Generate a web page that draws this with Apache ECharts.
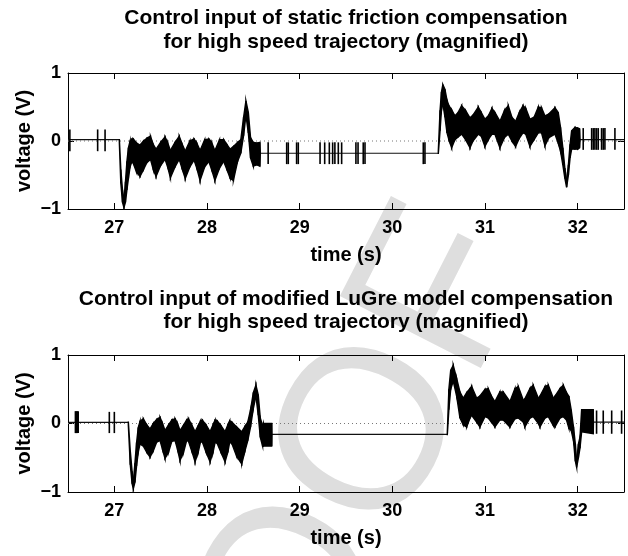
<!DOCTYPE html>
<html><head><meta charset="utf-8">
<script src="https://cdn.jsdelivr.net/npm/echarts@6/dist/echarts.min.js"></script>
<style>html,body{margin:0;padding:0;background:#fff}#c{width:628px;height:556px}</style>
</head><body><div id="c"></div>
<script>
const FONT = '"Liberation Sans", Arial, Helvetica, sans-serif';
const xTicks = [27, 28, 29, 30, 31, 32];
const yTicks = [-1, 0, 1];
const xRange = [26.5, 32.5];
const yRange = [-1, 1];
const titles1 = ['Control input of static friction compensation', 'for high speed trajectory (magnified)'];
const titles2 = ['Control input of modified LuGre model compensation', 'for high speed trajectory (magnified)'];
const xName = 'time (s)';
const yName = 'voltage (V)';
const watermark = 'PROOF';
const zeroLine = [[26.5, 0], [32.5, 0]];

// ---- plot 1: static friction compensation ----
// constant segments: [tStart, tEnd, level]
const p1Base = [[26.5, 27.054, 0.02], [28.575, 30.496, -0.18], [32.025, 32.5, 0.02]];
// band envelope: [t, lower, upper]
const p1BandA = [
 [27.054,-0.02,0.03],[27.070,-0.62,-0.42],[27.088,-0.90,-0.72],[27.104,-0.98,-0.86],[27.120,-0.90,-0.60],
 [27.136,-0.72,-0.30],[27.152,-0.55,-0.10],[27.170,-0.38,0.00],[27.190,-0.30,0.03],[27.205,-0.33,0.03],
 [27.240,-0.46,-0.03],[27.277,-0.52,-0.06],[27.315,-0.42,0.00],[27.350,-0.32,0.04],[27.390,-0.27,0.07],
 [27.420,-0.42,-0.05],[27.450,-0.52,-0.12],[27.500,-0.36,-0.02],[27.547,-0.27,0.06],[27.575,-0.38,-0.02],
 [27.605,-0.54,-0.14],[27.655,-0.38,-0.02],[27.700,-0.27,0.07],[27.730,-0.40,-0.04],[27.765,-0.55,-0.15],
 [27.815,-0.38,0.00],[27.860,-0.28,0.03],[27.890,-0.40,-0.03],[27.925,-0.58,-0.14],[27.975,-0.38,0.02],
 [28.020,-0.30,0.03],[28.050,-0.42,-0.02],[28.085,-0.58,-0.14],[28.135,-0.40,0.02],[28.180,-0.30,0.02],
 [28.215,-0.42,-0.05],[28.250,-0.55,-0.12],[28.285,-0.58,-0.08],[28.330,-0.30,-0.02],[28.365,-0.18,0.02],
 [28.395,0.08,0.35],[28.420,0.38,0.59],[28.446,0.12,0.42],[28.470,-0.25,0.05],[28.500,-0.37,-0.02],
 [28.540,-0.35,-0.03],[28.570,-0.37,-0.02],[28.575,-0.19,-0.17]
];
const p1BandB = [
 [30.496,-0.19,-0.15],[30.515,0.15,0.45],[30.530,0.45,0.72],[30.545,0.55,0.83],[30.568,0.35,0.76],
 [30.590,0.12,0.60],[30.610,0.02,0.52],[30.640,-0.10,0.46],[30.676,0.02,0.37],[30.710,0.06,0.42],
 [30.748,0.10,0.52],[30.790,0.02,0.45],[30.838,-0.10,0.34],[30.870,0.00,0.38],[30.927,0.10,0.50],
 [30.960,0.07,0.42],[30.999,-0.08,0.32],[31.040,0.03,0.38],[31.075,0.10,0.48],[31.107,0.10,0.42],
 [31.161,-0.10,0.29],[31.210,0.05,0.45],[31.251,0.10,0.52],[31.290,0.00,0.35],[31.330,-0.08,0.29],
 [31.370,0.04,0.42],[31.410,0.12,0.52],[31.440,0.10,0.48],[31.485,-0.08,0.32],[31.530,0.02,0.35],
 [31.575,0.12,0.50],[31.610,0.12,0.49],[31.647,-0.07,0.37],[31.690,0.05,0.40],[31.755,0.10,0.49],
 [31.790,-0.03,0.42],[31.815,-0.15,0.20],[31.840,-0.35,-0.10],[31.862,-0.55,-0.40],[31.881,-0.68,-0.58],
 [31.900,-0.50,-0.35],[31.918,-0.25,-0.05],[31.935,-0.12,0.15],[31.970,-0.12,0.20],[32.000,-0.12,0.19],
 [32.020,-0.10,0.18],[32.025,0.01,0.03]
];
// short noise bursts: [t, lower, upper]
const p1Spikes = [
 [26.52,-0.15,0.17],[26.82,-0.15,0.17],[26.90,-0.15,0.17],
 [28.66,-0.34,-0.02],[28.86,-0.34,-0.02],[28.877,-0.34,-0.02],[28.967,-0.34,-0.02],[28.985,-0.34,-0.02],
 [29.22,-0.34,-0.02],[29.27,-0.34,-0.02],[29.32,-0.34,-0.02],[29.356,-0.34,-0.02],[29.38,-0.34,-0.02],
 [29.417,-0.34,-0.02],[29.453,-0.34,-0.02],[29.607,-0.34,-0.02],[29.63,-0.34,-0.02],[29.686,-0.34,-0.02],
 [29.705,-0.34,-0.02],[30.334,-0.34,-0.02],[30.352,-0.34,-0.02],
 [32.06,-0.13,0.19],[32.151,-0.13,0.19],[32.169,-0.13,0.19],[32.186,-0.13,0.19],[32.204,-0.13,0.19],
 [32.222,-0.13,0.19],[32.258,-0.13,0.19],[32.276,-0.13,0.19],[32.294,-0.13,0.19],[32.402,-0.13,0.19]
];

// ---- plot 2: modified LuGre model compensation ----
const p2Base = [[26.5, 27.151, 0.015], [28.70, 30.593, -0.16], [32.17, 32.5, 0.02]];
const p2BandA = [
 [27.151,-0.02,0.03],[27.172,-0.60,-0.40],[27.192,-0.88,-0.70],[27.205,-0.95,-0.85],[27.222,-0.86,-0.58],
 [27.240,-0.62,-0.28],[27.258,-0.42,-0.06],[27.277,-0.30,0.03],[27.313,-0.33,0.07],[27.350,-0.42,-0.02],
 [27.385,-0.49,-0.08],[27.420,-0.40,0.00],[27.457,-0.27,0.06],[27.493,-0.25,0.09],[27.520,-0.38,0.00],
 [27.547,-0.51,-0.10],[27.585,-0.42,-0.02],[27.620,-0.26,0.05],[27.655,-0.25,0.07],[27.682,-0.38,0.00],
 [27.709,-0.54,-0.10],[27.745,-0.43,-0.03],[27.780,-0.25,0.05],[27.800,-0.26,0.07],[27.835,-0.40,-0.02],
 [27.871,-0.56,-0.12],[27.905,-0.42,-0.03],[27.930,-0.27,0.04],[27.950,-0.27,0.05],[27.990,-0.42,-0.02],
 [28.033,-0.56,-0.12],[28.065,-0.42,-0.02],[28.087,-0.28,0.05],[28.110,-0.29,0.04],[28.150,-0.42,-0.03],
 [28.195,-0.56,-0.12],[28.225,-0.42,-0.02],[28.245,-0.27,0.04],[28.270,-0.30,0.02],[28.320,-0.48,-0.05],
 [28.375,-0.59,-0.12],[28.410,-0.40,-0.04],[28.440,-0.25,0.02],[28.470,-0.05,0.20],[28.500,0.22,0.45],
 [28.528,0.40,0.56],[28.553,0.12,0.42],[28.575,-0.20,0.08],[28.600,-0.33,-0.03],[28.607,-0.33,0.00],
 [28.698,-0.33,0.00],[28.700,-0.17,-0.15]
];
const p2BandB = [
 [30.593,-0.17,-0.14],[30.610,0.20,0.50],[30.630,0.50,0.78],[30.657,0.62,0.85],[30.694,0.40,0.66],
 [30.730,0.08,0.46],[30.765,-0.02,0.37],[30.802,-0.05,0.45],[30.838,0.08,0.51],[30.856,0.12,0.54],
 [30.910,0.02,0.37],[30.945,-0.05,0.40],[31.000,0.10,0.50],[31.035,0.08,0.51],[31.070,0.02,0.40],
 [31.107,-0.05,0.32],[31.160,0.05,0.46],[31.197,0.05,0.46],[31.269,-0.05,0.32],[31.323,0.07,0.51],
 [31.359,0.08,0.54],[31.413,0.02,0.34],[31.430,-0.05,0.36],[31.485,0.08,0.51],[31.520,0.10,0.56],
 [31.575,0.00,0.37],[31.593,-0.05,0.40],[31.647,0.08,0.54],[31.683,0.10,0.56],[31.737,-0.03,0.37],
 [31.755,-0.05,0.40],[31.809,0.08,0.51],[31.845,0.10,0.56],[31.880,0.05,0.45],[31.905,-0.07,0.40],
 [31.930,-0.10,0.20],[31.955,-0.25,-0.05],[31.975,-0.55,-0.30],[31.989,-0.64,-0.55],[32.008,-0.50,-0.30],
 [32.025,-0.36,-0.20],[32.043,-0.12,0.20],[32.168,-0.15,0.20],[32.170,0.01,0.03]
];
const p2Spikes = [
 [26.58,-0.14,0.18],[26.59,-0.14,0.18],[26.60,-0.14,0.18],[26.61,-0.14,0.18],
 [26.946,-0.14,0.17],[27.0,-0.14,0.17],
 [32.204,-0.15,0.19],[32.276,-0.15,0.19],[32.367,-0.15,0.19],[32.474,-0.15,0.19]
];

const plots = [
  {titles: titles1, base: p1Base, bands: [p1BandA, p1BandB], spikes: p1Spikes},
  {titles: titles2, base: p2Base, bands: [p2BandA, p2BandB], spikes: p2Spikes}
];

const grids = [
  {left: 68, top: 73, width: 556, height: 136},
  {left: 68, top: 355, width: 556, height: 137}
];

function fmtY(v) { return v < 0 ? '\u2212' + Math.abs(v) : String(v); }
function fmtX(v) { return Math.abs(v - Math.round(v)) < 1e-9 ? String(Math.round(v)) : ''; }

const xAxes = [], yAxes = [], series = [], graphics = [];
grids.forEach((g, gi) => {
  const line = {show: true, onZero: false, lineStyle: {color: '#000', width: 1}};
  xAxes.push({
    type: 'value', gridIndex: gi, position: 'bottom', min: xRange[0], max: xRange[1],
    axisLine: line,
    axisTick: {show: true, inside: true, length: 6, lineStyle: {color: '#000'}, customValues: xTicks},
    axisLabel: {show: true, customValues: xTicks, formatter: fmtX, color: '#000', fontSize: 18,
      fontWeight: 'bold', fontFamily: FONT, margin: 10},
    splitLine: {show: false},
    name: xName, nameLocation: 'middle', nameGap: 36, nameMoveOverlap: false,
    nameTextStyle: {color: '#000', fontSize: 20, fontWeight: 'bold', fontFamily: FONT}
  });
  xAxes.push({
    type: 'value', gridIndex: gi, position: 'top', min: xRange[0], max: xRange[1],
    axisLine: line,
    axisTick: {show: true, inside: true, length: 6, lineStyle: {color: '#000'}, customValues: xTicks},
    axisLabel: {show: false}, splitLine: {show: false}
  });
  yAxes.push({
    type: 'value', gridIndex: gi, position: 'left', min: yRange[0], max: yRange[1], interval: 1,
    axisLine: line,
    axisTick: {show: true, inside: true, length: 6, lineStyle: {color: '#000'}},
    axisLabel: {show: true, formatter: fmtY, color: '#000', fontSize: 18, fontWeight: 'bold',
      fontFamily: FONT, margin: 7},
    splitLine: {show: false},
    name: yName, nameLocation: 'middle', nameGap: 34, nameRotate: 90, nameMoveOverlap: false,
    nameTextStyle: {color: '#000', fontSize: 20, fontWeight: 'bold', fontFamily: FONT}
  });
  yAxes.push({
    type: 'value', gridIndex: gi, position: 'right', min: yRange[0], max: yRange[1], interval: 1,
    axisLine: line,
    axisTick: {show: true, inside: true, length: 6, lineStyle: {color: '#000'}},
    axisLabel: {show: false}, splitLine: {show: false}
  });

  const xi = gi * 2, yi = gi * 2;
  const p = plots[gi];

  series.push({
    type: 'line', xAxisIndex: xi, yAxisIndex: yi, data: zeroLine, symbol: 'none', silent: true,
    lineStyle: {color: '#777', width: 1, type: [1, 3]}, z: 1
  });

  p.base.forEach(seg => {
    series.push({
      type: 'line', xAxisIndex: xi, yAxisIndex: yi, symbol: 'none', silent: true,
      data: [[seg[0], seg[2]], [seg[1], seg[2]]],
      lineStyle: {color: '#111', width: 1.2}, z: 3
    });
  });

  p.bands.forEach(band => {
    series.push({
      type: 'custom', xAxisIndex: xi, yAxisIndex: yi, data: band, silent: true, clip: true, z: 4,
      encode: {x: 0, y: [1, 2]},
      renderItem: function (params, api) {
        const i = params.dataIndex;
        if (i >= band.length - 1) return null;
        const a = band[i], b = band[i + 1];
        const pts = [api.coord([a[0], a[1]]), api.coord([b[0], b[1]]),
                     api.coord([b[0], b[2]]), api.coord([a[0], a[2]])];
        return {type: 'polygon', shape: {points: pts},
                style: {fill: '#000', stroke: '#000', lineWidth: 1.4}};
      }
    });
  });

  series.push({
    type: 'custom', xAxisIndex: xi, yAxisIndex: yi, data: p.spikes, silent: true, clip: true, z: 4,
    encode: {x: 0, y: [1, 2]},
    renderItem: function (params, api) {
      const p1 = api.coord([api.value(0), api.value(1)]);
      const p2 = api.coord([api.value(0), api.value(2)]);
      return {type: 'line', shape: {x1: p1[0], y1: p1[1], x2: p2[0], y2: p2[1]},
              style: {stroke: '#000', lineWidth: 1.6}};
    }
  });

  const cx = g.left + g.width / 2;
  const ty = gi === 0 ? [18, 42] : [299, 322];
  p.titles.forEach((t, li) => {
    graphics.push({type: 'text', x: cx, y: ty[li], z: 10,
      style: {text: t, align: 'center', verticalAlign: 'middle', fill: '#000',
              font: 'bold 21px ' + FONT}});
  });
});

graphics.push({
  type: 'text', x: 294, y: 595, rotation: 63 * Math.PI / 180, z: -10, silent: true,
  style: {text: watermark, align: 'center', verticalAlign: 'middle',
          fill: '#dedede', font: '230px ' + FONT}
});

const chart = echarts.init(document.getElementById('c'), null, {renderer: 'canvas'});
chart.setOption({
  animation: false,
  backgroundColor: '#fff',
  grid: grids.map(g => Object.assign({containLabel: false, outerBoundsMode: 'none'}, g)),
  xAxis: xAxes,
  yAxis: yAxes,
  series: series,
  graphic: {elements: graphics}
});
</script>
</body></html>
